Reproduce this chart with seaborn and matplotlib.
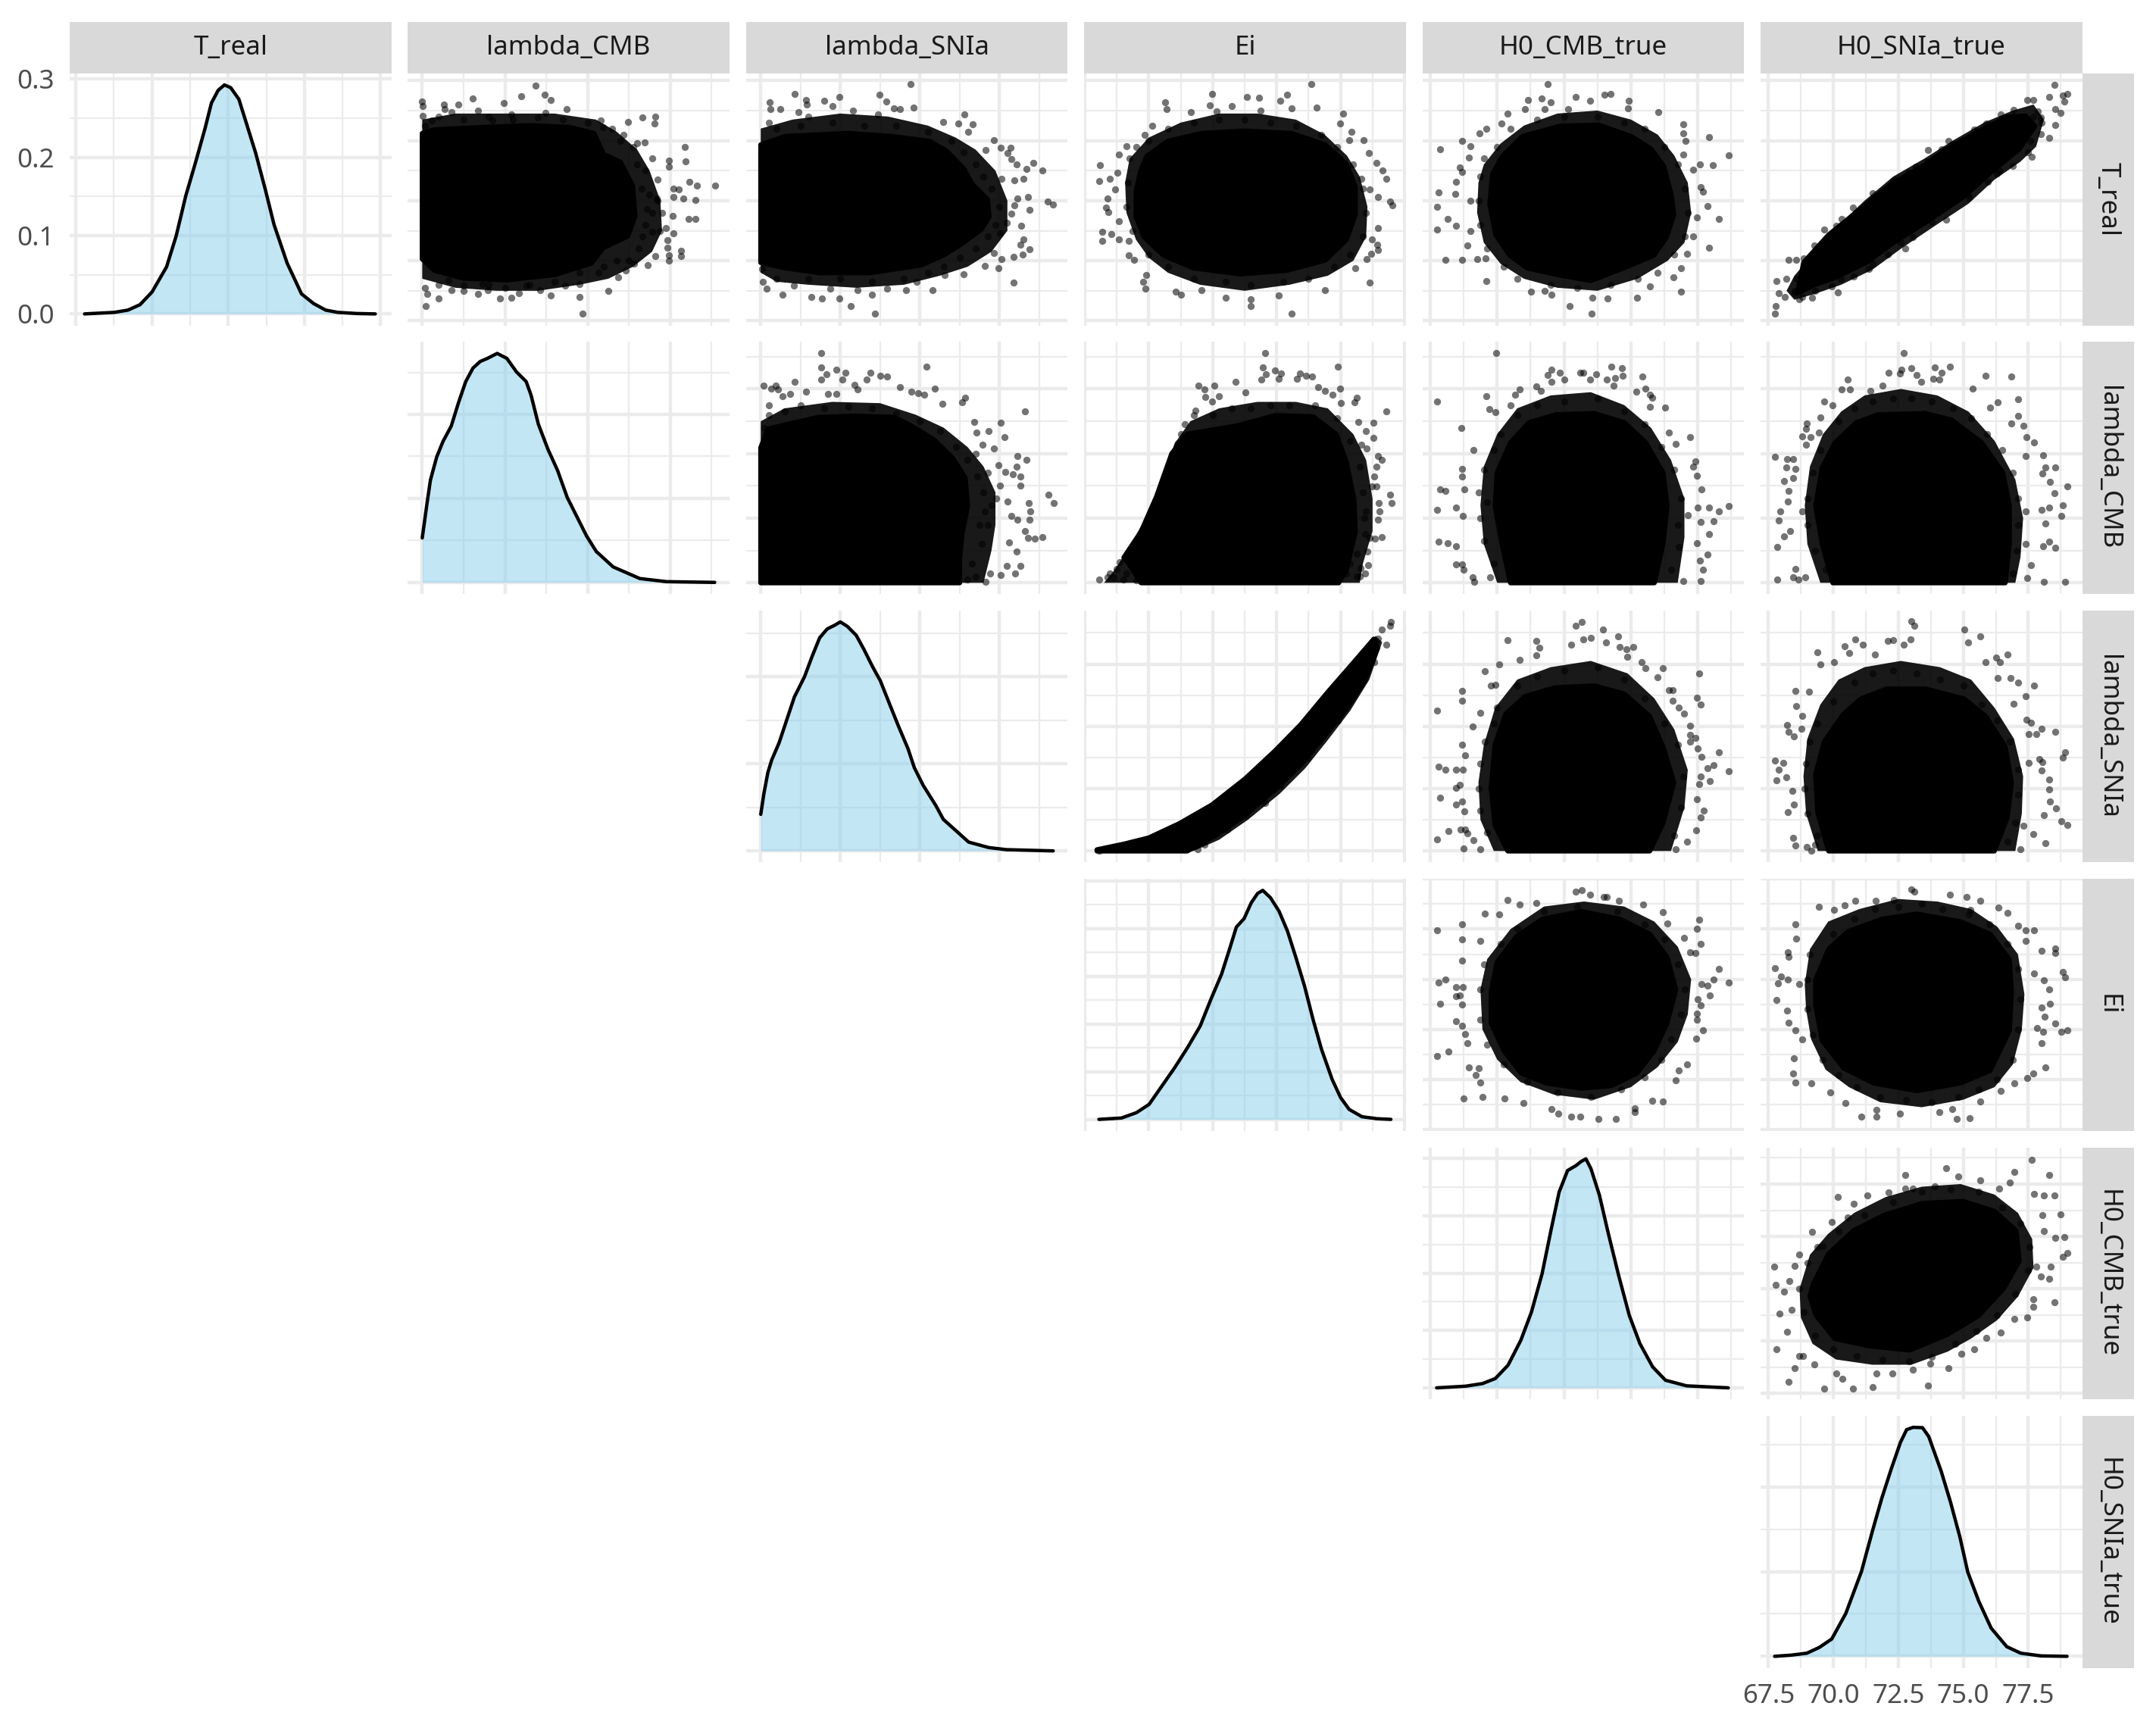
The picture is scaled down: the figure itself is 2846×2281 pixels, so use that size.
import matplotlib
matplotlib.use("Agg")
import matplotlib.pyplot as plt
import seaborn as sns
import numpy as np

sns.set_theme(style="white")
plt.rcParams["font.family"] = ["Noto Sans", "DejaVu Sans"]

names = ["T_real", "lambda_CMB", "lambda_SNIa", "Ei", "H0_CMB_true", "H0_SNIa_true"]
x_lims = [(-0.008, 0.414), (-0.174, 3.716), (-0.185, 3.857), (-0.01, 5.02), (-0.118, 4.69), (67.2, 79.57)]
y_lims = [(-0.0076, 0.4117), (-0.171, 3.727), (-0.182, 3.86), (-0.02, 5.0), (-0.11, 4.7)]
x_major = [[0, .1, .2, .3, .4], [0, 1, 2, 3], [0, 1, 2, 3], [0, 1, 2, 3, 4, 5], [0, 1, 2, 3, 4], [67.5, 70, 72.5, 75, 77.5]]
x_minor = [[.05, .15, .25, .35], [.5, 1.5, 2.5, 3.5], [.5, 1.5, 2.5, 3.5], [.5, 1.5, 2.5, 3.5, 4.5],
           [.5, 1.5, 2.5, 3.5, 4.5], [68.75, 71.25, 73.75, 76.25, 78.75]]
y_major = x_major[:5]
y_minor = x_minor[:5]

# density curves (x value, density) for the diagonal
d_treal = [(.0115,0),(.0507,.002),(.0685,.0049),(.0843,.0118),(.1001,.0281),(.1191,.0601),(.1317,.0995),(.1444,.1512),(.157,.1931),(.1697,.2374),(.178,.2695),(.1868,.2857),(.195,.2926),(.2032,.2892),(.214,.2744),(.2235,.2448),(.2361,.2054),(.2488,.1586),(.2601,.1143),(.2773,.065),(.2962,.0256),(.312,.0133),(.3279,.0049),(.3437,.002),(.369,.0005),(.393,0)]
d_lcmb = [(0,.0529),(.058,.0943),(.099,.1218),(.175,.1494),(.251,.1678),(.351,.1862),(.438,.2138),(.526,.2391),(.614,.2552),(.701,.263),(.789,.2667),(.906,.2726),(1.023,.2667),(1.14,.2506),(1.257,.2391),(1.316,.223),(1.404,.1885),(1.52,.1586),(1.637,.1333),(1.754,.1011),(1.871,.0782),(1.988,.0552),(2.105,.0368),(2.31,.0184),(2.632,.0046),(2.953,.0009),(3.538,0)]
d_lsn = [(0,.042),(.041,.0667),(.089,.0899),(.137,.1043),(.232,.1246),(.327,.1507),(.422,.1768),(.549,.2),(.644,.2232),(.74,.2449),(.835,.2551),(.93,.2594),(1.0,.2632),(1.089,.258),(1.2,.2478),(1.295,.2319),(1.406,.2116),(1.502,.1957),(1.597,.1739),(1.724,.1449),(1.851,.1174),(1.93,.0957),(2.041,.0754),(2.2,.0522),(2.295,.0362),(2.454,.0232),(2.613,.0101),(2.867,.0038),(3.089,.0014),(3.676,0)]
d_ei = [(.22,0),(.572,.0028),(.806,.014),(1.005,.0315),(1.205,.0699),(1.405,.1084),(1.605,.1503),(1.804,.1958),(1.971,.2517),(2.137,.3042),(2.27,.3601),(2.37,.4035),(2.49,.421),(2.603,.4545),(2.703,.4741),(2.783,.4804),(2.903,.465),(3.036,.4371),(3.169,.3951),(3.302,.3392),(3.436,.2797),(3.569,.2098),(3.702,.1469),(3.868,.0839),(4.001,.0455),(4.134,.021),(4.334,.0056),(4.567,.0014),(4.787,0)]
d_h0c = [(.095,0),(.528,.0029),(.782,.0075),(.973,.0163),(1.163,.0395),(1.354,.083),(1.513,.1323),(1.672,.1991),(1.799,.2716),(1.926,.3413),(2.053,.379),(2.18,.3877),(2.256,.3947),(2.327,.3993),(2.403,.3819),(2.53,.3355),(2.657,.2716),(2.816,.1962),(2.975,.1265),(3.134,.0772),(3.325,.0365),(3.516,.0133),(3.833,.0035),(4.456,0)]
d_h0s = [(67.74,0),(68.38,.0014),(68.98,.0037),(69.46,.0105),(69.94,.0205),(70.48,.0507),(71.08,.1),(71.5,.1475),(71.86,.1863),(72.22,.2205),(72.58,.2525),(72.82,.2676),(73.07,.2703),(73.43,.2699),(73.67,.2594),(74.15,.2183),(74.51,.1817),(74.87,.1406),(75.17,.0995),(75.59,.0653),(76.07,.0333),(76.67,.0114),(77.21,.0037),(77.99,.0005),(78.99,0)]
densities = [d_treal, d_lcmb, d_lsn, d_ei, d_h0c, d_h0s]
dens_major = [[0, .1, .2, .3], [0, .1, .2], [0, .1, .2], [0, .1, .2, .3, .4, .5], [0, .1, .2, .3, .4], [0, .1, .2]]
dens_minor = [[.05, .15, .25], [.05, .15, .25], [.05, .15, .25], [.05, .15, .25, .35, .45], [.05, .15, .25, .35], [.05, .15, .25]]

# Row T_real: solid region outline, speckled region outline, separately read points
core_1_2 = [(0,.312),(.146,.318),(.731,.322),(1.316,.325),(1.784,.322),(2.076,.312),(2.193,.277),(2.398,.264),(2.544,.225),(2.573,.174),(2.485,.141),(2.193,.122),(2.047,.096),(1.608,.077),(1.023,.068),(.497,.071),(.146,.084),(0,.103)]
halo_1_2 = [(0,.335),(.4,.345),(1.0,.345),(1.6,.345),(2.1,.335),(2.35,.315),(2.6,.285),(2.75,.25),(2.88,.2),(2.9,.15),(2.78,.115),(2.55,.09),(2.25,.07),(1.9,.06),(1.4,.05),(.9,.05),(.4,.055),(0,.07)]
pts_1_2 = [(0,.365),(.01,.357),(.01,.341),(.03,.325),(.26,.36),(.27,.352),(.35,.347),(.44,.36),(.61,.37),(.67,.35),(.99,.363),(1.2,.374),(1.37,.392),(1.48,.377),(1.55,.368),(1.75,.352),(1.49,.346),(1.08,.344),(.85,.334),(.12,.333),(2.16,.333),(2.19,.322),(2.49,.331),(2.66,.339),(2.82,.34),(2.81,.329),(2.43,.309),(2.6,.296),(2.69,.297),(2.78,.27),(2.98,.267),(3.18,.289),(3.19,.266),(2.98,.257),(2.85,.235),(3.04,.22),(3.23,.232),(3.32,.225),(3.54,.225),(3.1,.219),(3.16,.203),(3.3,.201),(3.04,.206),(2.84,.203),(2.72,.186),(3.03,.175),(3.22,.17),(3.3,.17),(2.95,.154),(3.04,.145),(2.78,.148),(2.66,.141),(2.97,.134),(2.97,.122),(3.13,.117),(3.13,.108),(2.98,.109),(2.98,.1),(2.82,.108),(2.73,.093),(2.56,.095),(2.46,.084),(2.37,.073),(2.25,.05),(2.13,.08),(1.9,.061),(1.9,.04),(1.94,.012),(1.55,.042),(1.43,.051),(1.17,.046),(1.08,.039),(.94,.037),(.79,.051),(.67,.045),(.5,.058),(.35,.051),(.2,.037),(.06,.045),(.03,.055),(.04,.024),(.32,.068),(.73,.061),(1.26,.058),(1.73,.058),(2.6,.26),(2.65,.22),(2.7,.25),(2.75,.21),(2.7,.16),(2.78,.18),(2.62,.12),(2.5,.1),(2.35,.1),(2.2,.09),(2.4,.3),(2.3,.32),(2.55,.29),(2.85,.2),(2.9,.18),(2.87,.15),(.2,.06),(.5,.05),(.8,.06),(1.0,.055),(1.3,.06),(1.6,.065),(1.9,.08),(.2,.34),(.5,.335),(.8,.34),(1.1,.335),(1.4,.338),(1.7,.335),(2.0,.33)]
core_1_3 = [(0,.293),(.31,.307),(1.11,.312),(1.64,.307),(2.12,.299),(2.34,.282),(2.55,.253),(2.66,.227),(2.85,.202),(2.87,.173),(2.77,.152),(2.5,.126),(2.29,.109),(2.02,.093),(1.38,.08),(.74,.08),(.31,.088),(0,.097)]
halo_1_3 = [(0,.32),(.4,.335),(1.0,.345),(1.6,.34),(2.1,.325),(2.45,.305),(2.7,.285),(2.95,.25),(3.1,.2),(3.1,.15),(2.9,.115),(2.6,.09),(2.25,.075),(1.8,.06),(1.2,.055),(.6,.06),(.2,.065),(0,.08)]
pts_1_3 = [(1.88,.394),(.43,.378),(.11,.364),(.12,.352),(.57,.368),(.58,.36),(.8,.366),(.99,.372),(1.49,.376),(1.58,.365),(1.67,.354),(1.92,.355),(.9,.357),(1.16,.35),(.47,.347),(.25,.352),(1.47,.343),(1.75,.352),(2.56,.344),(2.48,.328),(2.66,.327),(2.29,.331),(2.61,.314),(2.93,.301),(3.02,.288),(3.14,.288),(2.83,.284),(3.1,.279),(3.15,.269),(3.43,.263),(3.34,.253),(3.54,.25),(3.22,.261),(3.3,.237),(3.19,.234),(3.03,.236),(3.23,.204),(3.36,.206),(3.61,.199),(3.67,.193),(3.38,.185),(3.19,.192),(3.15,.178),(3.27,.158),(3.09,.163),(3.01,.145),(3.3,.135),(3.26,.127),(3.38,.119),(3.29,.11),(3.18,.107),(2.93,.113),(3.03,.103),(2.99,.088),(2.82,.091),(3.18,.064),(2.55,.078),(2.31,.076),(2.16,.051),(1.83,.051),(1.59,.054),(1.4,.044),(1.44,.012),(1.13,.024),(.99,.037),(.77,.037),(.64,.04),(.27,.044),(.07,.054),(.03,.065),(.02,.086),(.42,.059),(.87,.053),(1.22,.051),(1.96,.065),(.2,.32),(.5,.325),(.9,.33),(1.3,.325),(1.7,.325),(2.1,.315),(2.4,.3),(2.55,.28),(2.7,.26),(2.8,.24),(2.9,.22),(3.0,.19),(2.95,.16),(2.85,.14),(2.7,.12),(2.5,.105),(2.3,.09),(2.1,.08),(1.8,.07),(1.4,.065),(1.0,.07),(.6,.07),(.2,.07),(.1,.33),(.6,.34)]
core_1_4 = [(.97,.274),(1.3,.299),(1.83,.312),(2.5,.316),(3.23,.312),(3.76,.293),(4.09,.261),(4.23,.223),(4.23,.177),(4.09,.135),(3.76,.101),(3.16,.084),(2.43,.078),(1.7,.088),(1.23,.109),(.93,.139),(.8,.173),(.8,.215),(.87,.248)]
halo_1_4 = [(.7,.27),(1.0,.305),(1.5,.33),(2.1,.345),(2.7,.345),(3.3,.335),(3.75,.31),(4.1,.275),(4.3,.24),(4.42,.19),(4.4,.14),(4.2,.1),(3.8,.075),(3.2,.06),(2.5,.05),(1.8,.06),(1.3,.08),(1.0,.105),(.8,.135),(.65,.18),(.63,.23)]
pts_1_4 = [(3.54,.394),(1.99,.378),(1.96,.359),(1.25,.364),(1.28,.352),(2.54,.373),(2.72,.371),(3.06,.366),(3.16,.376),(2.3,.357),(2.06,.349),(2.75,.35),(3.23,.354),(3.62,.355),(4.04,.345),(1.66,.347),(1.05,.325),(.93,.309),(3.99,.328),(4.17,.315),(4.36,.301),(4.13,.301),(.65,.291),(.8,.29),(.53,.277),(4.44,.279),(4.56,.263),(4.66,.25),(4.71,.237),(.24,.259),(.22,.233),(.39,.237),(.51,.246),(.47,.219),(.35,.203),(.33,.189),(.37,.181),(.53,.166),(.27,.148),(.41,.144),(.27,.133),(.53,.135),(.69,.133),(.69,.109),(.77,.101),(.91,.065),(.95,.054),(.96,.076),(1.42,.049),(1.5,.044),(1.83,.051),(2.2,.038),(2.6,.024),(2.6,.036),(3.23,.012),(3.03,.042),(3.75,.051),(4.45,.064),(4.23,.088),(4.41,.103),(4.48,.112),(4.59,.118),(4.57,.127),(4.49,.135),(4.59,.155),(4.78,.199),(4.81,.192),(4.59,.206),(4.46,.219),(4.33,.236),(1.0,.30),(1.3,.32),(1.7,.33),(2.1,.335),(2.5,.335),(2.9,.33),(3.3,.325),(3.7,.31),(3.95,.29),(4.2,.26),(4.35,.22),(4.4,.18),(4.35,.14),(4.15,.11),(3.9,.09),(3.5,.07),(3.1,.065),(2.6,.06),(2.2,.065),(1.7,.07),(1.3,.09),(1.0,.11),(.75,.15),(.65,.19),(.67,.23),(.7,.27)]
core_1_5 = [(.93,.244),(1.08,.274),(1.38,.307),(1.94,.324),(2.51,.326),(3.0,.307),(3.3,.286),(3.49,.257),(3.6,.211),(3.64,.177),(3.53,.139),(3.34,.109),(2.89,.088),(2.4,.067),(1.94,.076),(1.45,.088),(1.19,.109),(.98,.143),(.89,.194)]
halo_1_5 = [(.8,.26),(1.05,.295),(1.4,.325),(1.9,.345),(2.5,.35),(3.0,.335),(3.4,.31),(3.65,.275),(3.85,.23),(3.9,.18),(3.8,.13),(3.55,.1),(3.1,.07),(2.5,.05),(1.9,.055),(1.4,.07),(1.05,.095),(.8,.13),(.7,.18),(.72,.23)]
pts_1_5 = [(1.75,.394),(1.46,.368),(1.66,.37),(1.8,.364),(1.71,.352),(1.41,.352),(2.06,.352),(2.17,.373),(2.6,.376),(2.7,.378),(2.39,.366),(2.97,.366),(2.96,.354),(3.41,.347),(3.78,.327),(3.78,.312),(4.17,.306),(4.46,.275),(4.23,.259),(4.03,.261),(3.82,.299),(3.78,.277),(3.93,.251),(4.04,.223),(4.08,.215),(4.14,.191),(4.31,.169),(3.99,.172),(3.93,.14),(4.17,.122),(3.84,.111),(3.75,.087),(3.63,.072),(3.75,.048),(3.29,.057),(3.09,.039),(2.65,.037),(2.41,.012),(2.42,.038),(2.08,.024),(1.81,.043),(1.71,.05),(1.51,.048),(.84,.066),(.23,.102),(.47,.102),(.7,.103),(.83,.104),(.56,.125),(.1,.152),(.26,.17),(.38,.158),(.1,.19),(.12,.214),(.37,.211),(.39,.232),(.47,.248),(.44,.255),(.58,.272),(.15,.285),(.47,.3),(.6,.291),(.74,.312),(.84,.32),(1.06,.329),(1.15,.345),(1.0,.29),(1.2,.32),(1.6,.335),(2.0,.34),(2.5,.34),(2.9,.33),(3.2,.32),(3.5,.29),(3.7,.26),(3.8,.22),(3.85,.18),(3.8,.14),(3.65,.11),(3.4,.08),(3.1,.07),(2.7,.06),(2.2,.055),(1.8,.06),(1.3,.07),(1.1,.09),(.85,.12),(.75,.16),(.72,.2),(.75,.24),(.8,.27),(.6,.2),(.6,.15)]
core_1_6 = [(68.86,.097),(69.82,.143),(71.02,.185),(72.22,.227),(73.43,.257),(74.39,.286),(75.59,.315),(76.67,.339),(77.39,.341),(77.75,.324),(77.15,.286),(76.07,.248),(74.99,.206),(73.55,.164),(72.34,.131),(71.26,.097),(70.06,.072),(69.22,.059),(68.62,.046)]
halo_1_6 = [(68.5,.075),(69.2,.11),(70.1,.155),(71.2,.2),(72.3,.24),(73.5,.27),(74.6,.3),(75.8,.33),(76.9,.35),(77.7,.36),(78.1,.335),(77.8,.29),(77.2,.265),(76.2,.235),(75.2,.195),(73.8,.155),(72.6,.12),(71.5,.085),(70.3,.06),(69.3,.045),(68.5,.035),(68.2,.05)]
pts_1_6 = [(67.74,.012),(67.78,.024),(67.8,.066),(68.2,.07),(67.9,.046),(68.14,.04),(68.5,.046),(68.68,.036),(69.19,.038),(70.16,.047),(69.94,.057),(68.28,.102),(68.56,.101),(68.86,.104),(69.28,.125),(69.64,.152),(70.12,.158),(70.32,.169),(70.76,.189),(71.5,.213),(72.28,.232),(72.88,.246),(73.18,.257),(73.64,.284),(74.15,.286),(74.42,.299),(75.41,.318),(75.89,.329),(76.43,.343),(76.93,.351),(77.45,.367),(77.69,.368),(78.29,.372),(78.51,.393),(78.83,.375),(78.99,.378),(78.89,.365),(78.53,.353),(78.75,.346),(78.53,.326),(78.29,.305),(77.63,.273),(77.57,.299),(77.99,.311),(76.91,.258),(76.37,.25),(75.95,.231),(75.17,.21),(74.33,.168),(73.07,.139),(72.76,.12),(72.1,.11),(71.38,.086),(70.78,.074),(77.99,.339),(77.87,.349),(69.2,.09),(69.0,.075),(70.4,.15),(71.2,.19),(72.4,.235),(73.6,.265),(74.6,.295),(75.8,.32),(76.9,.34),(77.7,.34),(78.0,.33),(77.5,.28),(76.3,.245),(75.2,.205),(73.8,.165),(72.6,.13),(71.5,.095),(70.3,.07),(69.3,.05),(68.8,.04),(68.5,.05),(68.6,.07)]

# Row lambda_CMB
core_2_3 = [(0,2.09),(.09,2.38),(.72,2.56),(1.2,2.58),(1.68,2.56),(1.93,2.4),(2.18,2.21),(2.41,1.93),(2.57,1.62),(2.6,1.19),(2.53,.76),(2.5,.37),(2.5,0),(0,0)]
halo_2_3 = [(0,2.5),(.3,2.7),(.9,2.8),(1.5,2.78),(1.95,2.6),(2.3,2.4),(2.6,2.1),(2.8,1.8),(2.95,1.4),(2.95,.9),(2.9,.5),(2.8,0),(0,0)]
pts_2_3 = [(.76,3.55),(.76,3.33),(.95,3.3),(.83,3.23),(1.06,3.25),(1.03,3.15),(.76,3.14),(.43,3.11),(.04,3.05),(.19,3.05),(.22,2.99),(.13,3.01),(.27,2.89),(.37,2.92),(.57,2.96),(.85,2.92),(.95,2.92),(1.18,3.06),(1.22,2.99),(1.33,3.15),(1.38,3.25),(1.5,3.2),(1.59,3.19),(1.75,3.03),(1.89,2.96),(1.98,2.93),(2.05,2.91),(2.08,3.34),(2.19,3.01),(2.28,2.77),(2.53,2.79),(2.57,2.86),(3.32,2.65),(3.02,2.48),(3.06,2.25),(2.79,2.14),(2.93,2.08),(2.68,2.49),(2.86,2.35),(2.71,2.33),(3.23,1.96),(3.34,1.9),(3.22,1.8),(3.26,1.64),(3.26,1.5),(3.17,1.68),(3.07,1.72),(3.62,1.36),(3.68,1.23),(3.37,1.23),(3.39,1.11),(3.38,.98),(3.32,.8),(3.54,.71),(3.44,.68),(3.36,.7),(3.23,.98),(3.22,.48),(3.26,.26),(3.2,.14),(3.09,.26),(3.02,.12),(3.12,.63),(3.1,1.26),(3.15,1.04),(2.88,.14),(2.83,.02),(2.99,1.82),(3.01,1.5),(2.96,1.31),(.1,2.6),(.3,2.65),(.5,2.75),(.8,2.7),(1.1,2.72),(1.4,2.7),(1.7,2.62),(2.0,2.5),(2.25,2.35),(2.45,2.1),(2.6,1.9),(2.72,1.65),(2.8,1.4),(2.82,1.1),(2.75,.9),(2.78,.6),(2.65,.3),(2.7,.1),(2.6,.05),(2.85,.9),(2.9,1.2),(2.85,1.7),(2.7,2.0),(.05,2.4),(.1,2.75)]
core_2_4 = [(.61,.39),(.88,.79),(1.12,1.33),(1.36,2.0),(1.6,2.3),(2.39,2.43),(2.98,2.59),(3.57,2.57),(3.93,2.3),(4.09,1.87),(4.21,1.28),(4.23,.79),(4.09,.2),(3.97,0),(.88,0),(.68,.31)]
halo_2_4 = [(.45,.18),(.7,.55),(1.0,1.1),(1.25,1.7),(1.4,2.15),(1.65,2.5),(2.1,2.7),(2.7,2.8),(3.3,2.8),(3.8,2.7),(4.2,2.3),(4.4,1.9),(4.5,1.3),(4.5,.8),(4.35,.3),(4.3,0),(.3,0)]
pts_2_4 = [(2.82,3.55),(3.96,3.34),(2.78,3.33),(2.97,3.29),(2.83,3.23),(3.07,3.24),(2.76,3.14),(3.03,3.16),(3.37,3.24),(3.46,3.21),(3.55,3.19),(3.32,3.16),(2.36,3.11),(3.99,3.01),(3.65,3.03),(3.75,2.97),(3.87,2.91),(1.78,3.05),(2.02,3.05),(1.87,2.99),(2.1,2.89),(1.88,2.88),(1.73,2.67),(1.56,2.45),(1.46,2.16),(1.38,2.0),(1.99,2.81),(2.51,2.95),(4.25,2.87),(4.22,2.79),(4.0,2.78),(4.72,2.65),(4.51,2.48),(4.28,2.49),(4.39,2.35),(4.51,2.24),(4.32,2.14),(4.41,2.08),(4.59,1.96),(4.65,1.9),(4.56,1.8),(4.52,1.65),(4.56,1.49),(4.77,1.36),(4.8,1.23),(4.6,1.23),(4.61,1.11),(4.59,.98),(4.65,.71),(4.54,.68),(4.42,.48),(4.43,.27),(4.38,.15),(4.25,.1),(4.31,.23),(4.09,.15),(4.49,1.49),(4.37,1.0),(.23,.05),(.39,.15),(.55,.32),(.45,.09),(.65,.15),(.8,.04),(1.7,2.6),(2.0,2.6),(2.3,2.7),(2.6,2.7),(2.9,2.75),(3.2,2.75),(3.6,2.75),(3.95,2.55),(4.15,2.2),(4.3,1.8),(4.35,1.4),(4.4,1.1),(4.38,.75),(4.25,.45),(4.3,.1),(4.15,.3),(4.45,.7),(1.5,2.3),(.5,.22),(.35,.08),(.6,.05)]
core_2_5 = [(1.2,0),(1.07,.61),(.97,1.19),(1.0,1.7),(1.2,2.17),(1.48,2.48),(1.87,2.6),(2.45,2.62),(2.9,2.48),(3.22,2.17),(3.48,1.7),(3.54,1.19),(3.48,.61),(3.35,0)]
halo_2_5 = [(1.0,0),(.8,.6),(.75,1.2),(.8,1.8),(1.0,2.3),(1.3,2.7),(1.8,2.9),(2.4,2.95),(2.9,2.75),(3.3,2.4),(3.6,1.9),(3.8,1.3),(3.8,.7),(3.7,0)]
pts_2_5 = [(.99,3.55),(.1,2.8),(.46,2.4),(.1,1.13),(.15,1.45),(.23,1.42),(.38,1.17),(.12,.64),(.26,.61),(.38,.57),(.39,.29),(.48,.29),(.5,.2),(.63,.08),(.66,.02),(.49,1.04),(.47,1.76),(.47,1.65),(.65,2.05),(.51,1.45),(.84,2.89),(.88,2.69),(.97,2.64),(1.2,2.75),(1.27,2.91),(1.34,2.99),(1.59,3.04),(1.65,2.97),(1.81,3.3),(1.76,3.22),(1.94,3.25),(1.81,3.11),(2.0,3.14),(2.24,3.25),(2.29,3.25),(2.48,3.23),(2.39,3.14),(2.64,3.15),(2.71,3.34),(2.87,3.32),(2.76,3.17),(2.88,3.2),(3.17,3.19),(3.08,2.96),(3.22,3.01),(2.74,3.05),(3.28,2.91),(3.32,2.86),(3.51,2.71),(3.28,2.72),(3.57,2.32),(3.88,2.26),(3.67,2.15),(3.96,1.88),(3.93,1.8),(3.99,1.66),(4.06,1.45),(4.0,1.17),(4.17,1.16),(4.31,1.11),(4.46,1.19),(4.24,.95),(4.04,.94),(4.17,.75),(3.99,.61),(4.15,.44),(4.03,.34),(4.08,.2),(4.04,.03),(3.78,.03),(1.05,2.3),(1.3,2.6),(1.6,2.75),(2.0,2.8),(2.5,2.85),(2.9,2.65),(3.2,2.45),(3.45,2.1),(3.65,1.75),(3.75,1.3),(3.7,.9),(3.72,.55),(3.6,.2),(.95,.3),(.8,.65),(.75,1.0),(.72,1.4),(.8,1.75),(.95,2.05),(.9,.08),(.85,1.25),(3.85,1.05)]
core_2_6 = [(69.98,0),(69.57,.61),(69.32,1.19),(69.57,1.78),(70.07,2.17),(70.89,2.48),(71.72,2.6),(73.54,2.62),(74.54,2.52),(75.7,2.17),(76.52,1.7),(76.77,1.19),(76.77,.61),(76.61,0)]
halo_2_6 = [(69.5,0),(69.0,.6),(68.9,1.2),(69.1,1.8),(69.6,2.3),(70.3,2.65),(71.2,2.9),(72.6,3.0),(74.0,2.9),(75.2,2.65),(76.2,2.2),(77.0,1.6),(77.3,1.0),(77.2,.4),(77.0,0)]
pts_2_6 = [(72.72,3.55),(70.56,3.14),(70.31,2.99),(70.65,2.99),(72.12,3.25),(72.63,3.3),(72.55,3.24),(72.99,3.32),(73.21,3.22),(73.91,3.33),(74.49,3.34),(74.16,3.25),(73.84,3.16),(74.09,3.15),(73.38,3.11),(71.89,3.05),(71.42,2.97),(75.86,3.2),(76.85,3.19),(75.36,3.01),(77.1,2.84),(76.31,2.79),(76.03,2.71),(77.1,2.58),(77.32,2.43),(77.43,2.26),(77.72,2.17),(76.85,2.46),(78.08,1.97),(77.4,1.96),(78.15,1.79),(78.54,1.79),(78.05,1.69),(78.99,1.49),(78.52,1.39),(78.34,1.56),(78.84,1.2),(78.77,1.04),(78.31,1.17),(78.01,1.13),(78.15,.92),(78.31,.64),(78.54,.54),(78.06,.57),(78.1,.01),(78.92,.01),(77.47,.07),(77.6,.27),(67.75,1.95),(68.21,1.92),(68.46,1.92),(68.18,1.79),(68.53,1.76),(68.11,1.58),(68.46,1.62),(68.29,1.42),(68.25,1.26),(67.96,1.11),(67.91,.97),(68.11,.72),(68.33,.8),(67.83,.55),(67.83,.05),(68.46,.08),(68.66,.05),(68.91,.08),(68.53,.22),(69.65,2.8),(69.98,2.75),(69.49,2.56),(68.99,2.47),(68.94,2.38),(68.79,2.27),(69.12,2.25),(68.96,2.14),(69.45,2.32),(70.2,2.5),(70.8,2.7),(71.5,2.8),(72.3,2.85),(73.0,2.85),(73.8,2.8),(74.6,2.7),(75.3,2.55),(75.9,2.3),(76.5,2.05),(76.9,1.7),(77.1,1.3),(77.1,.9),(77.05,.5),(76.9,.15),(69.7,.2),(69.3,.5),(69.0,.9),(69.0,1.3),(69.2,1.7),(69.5,2.05),(68.8,1.1),(77.4,1.1),(77.4,.6)]

# Row lambda_SNIa
core_3_4 = [(.19,.02),(.61,.11),(1.0,.21),(1.48,.44),(1.99,.74),(2.51,1.16),(2.98,1.61),(3.38,2.03),(3.81,2.56),(4.21,3.03),(4.52,3.4),(4.58,3.26),(4.37,2.73),(4.09,2.28),(3.73,1.83),(3.38,1.39),(2.98,.99),(2.47,.55),(2.03,.24),(1.6,0),(.8,0),(.19,0)]
halo_3_4 = [(.19,.03),(1.0,.23),(1.48,.46),(1.99,.76),(2.51,1.18),(2.98,1.63),(3.38,2.05),(3.81,2.58),(4.21,3.05),(4.55,3.45),(4.65,3.35),(4.45,2.75),(4.15,2.25),(3.8,1.78),(3.45,1.33),(3.05,.92),(2.55,.5),(2.1,.18),(1.7,0),(.19,0)]
pts_3_4 = [(4.79,3.68),(4.77,3.62),(4.65,3.55),(4.72,3.31),(4.59,3.41),(4.52,3.03),(4.33,3.15),(4.25,2.59),(3.96,2.1),(3.65,1.75),(3.48,1.5),(3.06,1.05),(2.82,.77),(2.51,.58),(2.23,.35),(1.77,.03),(1.87,.1),(.23,0)]
core_3_5 = [(1.16,0),(.97,.41),(.91,1.02),(.97,1.71),(1.13,2.2),(1.42,2.48),(1.87,2.62),(2.45,2.65),(2.9,2.52),(3.28,2.16),(3.48,1.67),(3.64,1.1),(3.48,.45),(3.28,0)]
halo_3_5 = [(.95,0),(.75,.5),(.72,1.1),(.8,1.7),(.97,2.3),(1.3,2.75),(1.8,2.95),(2.4,3.05),(2.95,2.85),(3.35,2.45),(3.65,1.95),(3.85,1.3),(3.8,.7),(3.6,0)]
pts_3_5 = [(2.18,3.62),(2.27,3.68),(2.58,3.55),(2.81,3.44),(2.63,3.35),(2.4,3.42),(2.29,3.4),(1.16,3.38),(1.59,3.37),(1.63,3.26),(1.34,3.07),(1.03,3.0),(.82,2.88),(1.59,3.14),(2.11,3.31),(2.83,3.27),(3.03,3.27),(2.93,3.24),(2.95,3.11),(3.16,3.03),(3.22,2.93),(3.48,2.93),(4.02,2.85),(3.4,2.79),(3.57,2.58),(3.62,2.58),(3.99,2.46),(4.04,2.35),(3.62,2.41),(3.71,2.3),(3.79,2.21),(3.88,2.01),(3.88,1.86),(3.96,1.81),(3.89,1.75),(4.0,1.65),(4.06,1.51),(4.31,1.58),(4.24,1.38),(4.15,1.33),(4.46,1.28),(4.18,1.12),(4.04,1.2),(4.02,1.07),(3.99,.83),(4.09,.65),(4.04,.54),(3.97,.33),(3.84,.15),(3.67,.03),(.1,2.25),(.48,2.57),(.48,2.41),(.63,2.0),(.75,2.22),(.91,2.65),(.97,2.67),(.48,1.7),(.52,1.53),(.13,1.35),(.23,1.3),(.38,1.31),(.49,1.31),(.38,1.01),(.44,1.06),(.15,.85),(.39,.75),(.48,.79),(.51,.64),(.52,.35),(.45,.35),(.27,.32),(.1,.19),(.55,.28),(.65,.17),(.5,.04),(.75,.03),(1.0,2.3),(1.3,2.65),(1.6,2.8),(2.0,2.9),(2.5,2.95),(2.9,2.75),(3.2,2.45),(3.5,2.05),(3.7,1.7),(3.78,1.2),(3.75,.7),(3.65,.25),(.85,.3),(.75,.65),(.72,1.0),(.75,1.4),(.82,1.75),(.95,2.05)]
core_3_6 = [(69.82,0),(69.4,.62),(69.32,1.23),(69.65,1.75),(70.4,2.2),(71.06,2.44),(72.05,2.6),(73.54,2.6),(75.03,2.44),(75.86,2.16),(76.61,1.67),(76.85,1.1),(76.69,.54),(76.19,0)]
halo_3_6 = [(69.4,0),(68.95,.6),(68.85,1.2),(69.0,1.8),(69.5,2.35),(70.2,2.75),(71.2,2.95),(72.6,3.05),(74.1,2.95),(75.3,2.75),(76.2,2.3),(76.95,1.8),(77.3,1.2),(77.25,.6),(77.0,0)]
pts_3_6 = [(73.01,3.69),(73.13,3.62),(75.03,3.55),(75.66,3.44),(75.17,3.35),(72.96,3.4),(72.3,3.38),(72.09,3.37),(70.83,3.4),(70.43,3.29),(71.14,3.31),(70.6,3.18),(69.4,3.19),(69.49,3.0),(70.03,3.03),(71.59,3.15),(72.72,3.31),(76.69,3.15),(76.27,3.1),(75.86,3.03),(76.41,3.03),(76.32,2.78),(76.82,2.78),(77.12,2.7),(77.73,2.66),(77.4,2.48),(76.94,2.36),(77.43,2.11),(77.6,2.06),(78.01,1.96),(78.54,1.91),(77.81,1.88),(77.52,1.87),(78.92,1.59),(78.84,1.5),(77.93,1.47),(78.05,1.43),(77.52,1.41),(78.01,1.29),(78.31,1.15),(78.31,.99),(78.34,.8),(78.56,.69),(78.76,.48),(79.01,.42),(78.1,.58),(78.15,.12),(77.68,.27),(77.19,.03),(68.53,2.57),(69.07,2.56),(68.58,2.32),(68.79,2.17),(68.21,2.02),(68.28,1.91),(68.49,1.84),(68.77,1.96),(67.75,1.45),(67.91,1.31),(68.08,1.41),(67.8,1.13),(68.18,1.18),(68.41,.96),(68.49,.74),(68.25,.62),(68.53,.09),(68.46,.21),(68.99,.07),(69.16,.01),(70.0,2.4),(70.8,2.7),(71.5,2.85),(72.3,2.9),(73.2,2.85),(74.1,2.75),(75.0,2.65),(75.7,2.35),(76.3,2.1),(76.8,1.75),(77.1,1.3),(77.1,.9),(77.0,.45),(76.7,.15),(69.4,.25),(69.0,.6),(68.9,1.0),(68.95,1.4),(69.1,1.75),(69.4,2.05),(69.3,.1),(77.3,.4)]

# Row Ei
core_4_5 = [(.91,2.74),(1.0,3.34),(1.29,3.85),(1.68,4.2),(2.26,4.35),(2.83,4.2),(3.28,3.9),(3.54,3.44),(3.67,2.79),(3.54,2.13),(3.35,1.58),(3.09,1.13),(2.71,.88),(2.26,.83),(1.74,.93),(1.36,1.13),(1.1,1.58),(.91,2.13)]
halo_4_5 = [(.75,2.8),(.85,3.4),(1.2,4.0),(1.7,4.45),(2.3,4.55),(2.9,4.45),(3.35,4.15),(3.7,3.65),(3.9,3.0),(3.85,2.3),(3.7,1.75),(3.4,1.25),(3.0,.85),(2.45,.6),(1.85,.7),(1.35,.95),(1.0,1.4),(.78,2.0)]
pts_4_5 = [(2.18,4.75),(2.27,4.78),(2.39,4.69),(2.59,4.64),(2.64,4.64),(2.82,4.56),(3.18,4.49),(1.16,4.58),(1.34,4.49),(1.59,4.52),(.82,4.31),(1.03,4.3),(.48,4.09),(.1,3.98),(.48,3.8),(.75,3.76),(3.48,4.34),(3.55,4.11),(4.02,4.19),(3.99,4.01),(4.04,3.71),(3.79,3.82),(3.88,3.54),(3.96,3.53),(4.31,3.21),(4.24,3.0),(4.46,2.93),(4.06,2.9),(4.15,2.87),(4.18,2.68),(4.0,2.6),(4.04,2.48),(3.99,2.31),(3.99,2.19),(4.08,1.98),(3.98,1.82),(3.84,1.3),(3.72,1.18),(3.67,.98),(3.48,.57),(3.32,.58),(3.06,.43),(3.06,.35),(2.77,.21),(2.51,.22),(2.24,.26),(2.11,.26),(1.91,.32),(1.81,.42),(1.39,.53),(1.11,.63),(.78,.65),(.5,.62),(.75,.94),(.68,1.1),(.73,1.23),(.58,1.25),(.1,1.47),(.27,1.56),(.55,1.73),(.52,1.91),(.39,2.16),(.48,2.08),(.47,2.5),(.15,2.51),(.38,2.66),(.44,2.68),(.38,2.84),(.49,2.84),(.12,2.93),(.23,2.99),(.48,3.37),(1.3,4.0),(1.7,4.35),(2.2,4.45),(2.8,4.35),(3.2,4.1),(3.5,3.8),(3.7,3.3),(3.8,2.8),(3.75,2.3),(3.6,1.8),(3.45,1.4),(3.2,1.05),(2.85,.8),(2.4,.65),(1.9,.75),(1.45,.95),(1.1,1.3),(.85,1.7),(.75,2.2),(.75,2.8),(.8,3.3),(1.05,3.7)]
core_4_6 = [(69.32,2.99),(69.82,3.6),(70.56,3.95),(71.89,4.2),(73.21,4.3),(74.87,4.15),(76.03,3.9),(76.77,3.39),(76.85,2.74),(76.77,1.98),(76.03,1.18),(74.87,.93),(73.21,.78),(71.56,.93),(70.4,1.23),(69.57,1.78),(69.32,2.49)]
halo_4_6 = [(68.9,2.9),(69.1,3.6),(69.8,4.15),(71.0,4.4),(72.5,4.6),(74.0,4.55),(75.3,4.4),(76.3,4.05),(77.1,3.5),(77.35,2.7),(77.25,2.0),(76.9,1.3),(76.2,.85),(75.0,.6),(73.4,.45),(71.8,.55),(70.6,.85),(69.7,1.2),(69.15,1.8),(68.95,2.4)]
pts_4_6 = [(73.01,4.79),(73.13,4.75),(74.49,4.69),(75.12,4.64),(75.66,4.56),(72.33,4.58),(71.64,4.56),(70.83,4.57),(70.43,4.48),(69.44,4.44),(70.03,4.38),(68.53,4.09),(68.58,3.81),(68.25,3.54),(68.28,3.45),(67.75,3.22),(68,3.05),(67.88,2.92),(68.25,2.99),(67.8,2.58),(68.21,2.37),(68.28,2.13),(68.53,1.98),(68.49,1.43),(68.46,1.13),(68.53,.94),(69.16,.92),(69.87,.74),(70.45,.53),(71.09,.26),(71.67,.26),(71.67,.4),(72.55,.32),(74.09,.35),(74.74,.21),(75.25,.23),(74.57,.42),(75.66,.57),(76.44,.78),(76.97,.93),(77.47,1.03),(77.68,1.13),(78.15,1.24),(78.01,1.73),(78.06,1.95),(78.76,1.95),(79.01,1.98),(78.54,2.12),(77.85,2.03),(78.13,2.26),(78.34,2.51),(78.01,2.43),(78.31,2.8),(78.1,2.98),(78.92,3.04),(78.84,3.14),(77.73,3.12),(78.53,3.61),(78.53,3.52),(78.01,3.57),(77.73,3.97),(77.4,3.97),(77.4,3.77),(77.12,4.07),(76.69,4.33),(76.36,4.43),(75.28,4.39),(70.0,3.9),(70.8,4.2),(71.6,4.4),(72.5,4.45),(73.4,4.5),(74.2,4.4),(75.2,4.3),(76.0,4.1),(76.7,3.7),(77.1,3.2),(77.2,2.6),(77.1,2.0),(76.9,1.4),(76.3,1.0),(75.6,.8),(74.8,.65),(73.8,.55),(72.8,.6),(71.8,.65),(70.9,.85),(70.2,1.1),(69.6,1.4),(69.2,1.9),(69.0,2.4),(69.0,3.0),(69.1,3.5),(68.7,2.9),(68.8,1.8)]

# Row H0_CMB_true
core_5_6 = [(69.22,2.08),(69.82,2.67),(70.78,3.11),(71.98,3.41),(73.43,3.63),(74.99,3.67),(76.19,3.48),(77.03,3.11),(77.15,2.53),(76.55,2.01),(75.59,1.49),(74.39,1.13),(72.94,.83),(71.38,.91),(70.06,1.05),(69.34,1.49),(69.1,1.86)]
halo_5_6 = [(68.7,2.0),(69.1,2.65),(69.8,3.05),(70.8,3.45),(72.0,3.75),(73.4,3.95),(74.9,4.0),(76.2,3.8),(77.1,3.45),(77.65,2.95),(77.7,2.4),(77.1,1.85),(76.3,1.4),(75.3,1.05),(74.4,.8),(73.0,.55),(71.5,.55),(70.1,.65),(69.2,.95),(68.75,1.45)]
pts_5_6 = [(77.63,4.46),(74.33,4.31),(72.78,4.18),(72.76,3.92),(73.07,3.92),(76.95,4.23),(78.31,4.18),(76.79,4.03),(77.73,3.81),(78.09,3.78),(78.52,3.78),(78.75,3.42),(78.05,3.41),(78.53,2.97),(78.89,2.98),(78.99,2.69),(78.83,2.61),(78.35,2.42),(78.29,2.19),(78.51,1.75),(77.69,1.8),(77.69,1.66),(77.45,1.46),(76.95,1.42),(76.43,1.16),(75.89,1.07),(75.41,.85),(74.93,.76),(74.42,.49),(73.64,.15),(71.5,.13),(70.75,.1),(69.64,.1),(68.28,.23),(68.5,.49),(69.28,.55),(68.68,.71),(68.84,.71),(67.8,.85),(70.1,.39),(70.34,.28),(71.65,.39),(72.28,.39),(73.07,.46),(73.73,.57),(67.78,2.07),(67.72,2.42),(67.92,1.52),(68.22,1.18),(68.11,1.94),(68.7,2.66),(68.5,2.44),(69.19,3.09),(69.6,2.82),(69.94,3.28),(70.16,3.76),(70.54,3.37),(70.78,3.63),(71.32,3.78),(72.13,3.84),(73.91,3.96),(74.81,4.15),(75.65,4.07),(76.39,3.92),(78.11,3.11),(77.81,2.42),(77.99,2.23),(69.0,2.5),(69.4,2.8),(70.2,3.1),(71.2,3.4),(72.3,3.65),(73.4,3.85),(74.5,3.9),(75.6,3.85),(76.5,3.55),(77.2,3.25),(77.55,2.8),(77.5,2.35),(77.0,1.9),(76.3,1.5),(75.5,1.2),(74.7,.95),(73.8,.7),(72.9,.62),(71.9,.65),(70.9,.72),(70.0,.85),(69.3,1.1),(68.85,1.55),(68.7,2.0),(68.4,1.6),(68.3,2.15)]

scatter_panels = {
    (0, 1): (core_1_2, halo_1_2, pts_1_2), (0, 2): (core_1_3, halo_1_3, pts_1_3), (0, 3): (core_1_4, halo_1_4, pts_1_4),
    (0, 4): (core_1_5, halo_1_5, pts_1_5), (0, 5): (core_1_6, halo_1_6, pts_1_6),
    (1, 2): (core_2_3, halo_2_3, pts_2_3), (1, 3): (core_2_4, halo_2_4, pts_2_4), (1, 4): (core_2_5, halo_2_5, pts_2_5),
    (1, 5): (core_2_6, halo_2_6, pts_2_6),
    (2, 3): (core_3_4, halo_3_4, pts_3_4), (2, 4): (core_3_5, halo_3_5, pts_3_5), (2, 5): (core_3_6, halo_3_6, pts_3_6),
    (3, 4): (core_4_5, halo_4_5, pts_4_5), (3, 5): (core_4_6, halo_4_6, pts_4_6),
    (4, 5): (core_5_6, halo_5_6, pts_5_6),
}

W, H = 2846, 2281
fig = plt.figure(figsize=(W / 300, H / 300), dpi=300, facecolor="white")

LEFT, COL_W, COL_P = 92.0, 424.5, 446.4
TOP, ROW_H, ROW_P = 97.0, 332.5, 354.4
STRIP_H, STRIP_W = 68.0, 68.0
GRID = "#EBEBEB"
TEXT = "#1A1A1A"
TICK = "#4D4D4D"
FS = 8.4


def add_axes(x0, y0, w, h):
    return fig.add_axes([x0 / W, 1 - (y0 + h) / H, w / W, h / H])


def style(ax, xmaj, xmin, ymaj, ymin, xlim, ylim, show_x, show_y):
    ax.set_facecolor("white")
    for s in ax.spines.values():
        s.set_visible(False)
    ax.set_xlim(*xlim)
    ax.set_ylim(*ylim)
    ax.set_xticks(xmaj)
    ax.set_xticks(xmin, minor=True)
    ax.set_yticks(ymaj)
    ax.set_yticks(ymin, minor=True)
    ax.grid(True, which="major", color=GRID, lw=1.07)
    ax.grid(True, which="minor", color=GRID, lw=0.53)
    ax.set_axisbelow(True)
    ax.tick_params(which="both", length=0, colors=TICK, labelsize=FS, pad=4.8)
    ax.tick_params(axis="x", labelbottom=show_x)
    ax.tick_params(axis="y", labelleft=show_y)
    ax.set_xlabel("")
    ax.set_ylabel("")


for r in range(6):
    for c in range(r, 6):
        x0 = LEFT + c * COL_P
        y0 = TOP + r * ROW_P
        ax = add_axes(x0, y0, COL_W, ROW_H)
        if r == c:
            xs = [p[0] for p in densities[c]]
            ys = [p[1] for p in densities[c]]
            top = max(ys)
            ax.fill_between(xs, 0, ys, color="skyblue", alpha=0.5, lw=0)
            line = sns.lineplot(x=xs, y=ys, ax=ax, color="black", lw=1.07, sort=False, estimator=None, errorbar=None)
            for ln in line.get_lines():
                ln.set_solid_joinstyle("round")
            style(ax, x_major[c], x_minor[c], dens_major[c], dens_minor[c], x_lims[c],
                  (-0.05 * top, 1.05 * top), c == 5, c == 0)
            if c == 0:
                ax.set_yticklabels(["0.0", "0.1", "0.2", "0.3"])
            if c == 5:
                ax.set_xticklabels(["67.5", "70.0", "72.5", "75.0", "77.5"])
        else:
            core, halo, pts = scatter_panels[(r, c)]
            ax.fill([p[0] for p in halo], [p[1] for p in halo], facecolor="black", alpha=0.9, lw=0, zorder=2)
            ax.fill([p[0] for p in core], [p[1] for p in core], facecolor="black", edgecolor="black",
                    lw=1.6, joinstyle="round", zorder=2.5)
            sns.scatterplot(x=[p[0] for p in pts], y=[p[1] for p in pts], ax=ax, color="black",
                            alpha=0.55, s=5.0, linewidth=0, zorder=3, legend=False)
            style(ax, x_major[c], x_minor[c], y_major[r], y_minor[r], x_lims[c], y_lims[r], False, False)

for c, name in enumerate(names):
    sa = add_axes(LEFT + c * COL_P, TOP - STRIP_H, COL_W, STRIP_H)
    sa.set_facecolor("#D9D9D9")
    sa.set_xticks([])
    sa.set_yticks([])
    for s in sa.spines.values():
        s.set_visible(False)
    sa.text(0.5, 0.5, name, transform=sa.transAxes, ha="center", va="center", fontsize=FS, color=TEXT)

for r, name in enumerate(names):
    sa = add_axes(LEFT + 5 * COL_P + COL_W, TOP + r * ROW_P, STRIP_W, ROW_H)
    sa.set_facecolor("#D9D9D9")
    sa.set_xticks([])
    sa.set_yticks([])
    for s in sa.spines.values():
        s.set_visible(False)
    sa.text(0.5, 0.5, name, transform=sa.transAxes, ha="center", va="center", rotation=-90,
            fontsize=FS, color=TEXT)

fig.savefig("out.png", dpi=300, facecolor="white")
